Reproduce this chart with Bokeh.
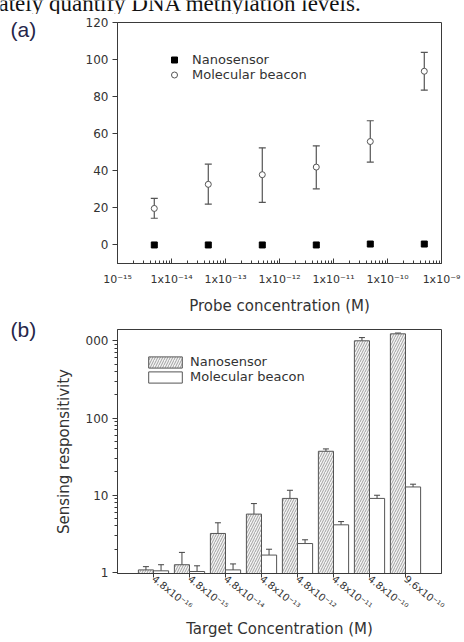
import math
from bokeh.plotting import figure
from bokeh.models import (FixedTicker, CustomJSTickFormatter, Whisker, TeeHead, ColumnDataSource,
                          Legend, LegendItem, Range1d)
from bokeh.layouts import column, row
from bokeh.transform import dodge
from bokeh.core.properties import value
from bokeh.embed import file_html
from bokeh.resources import INLINE

# ---------------- Panel (a) data ----------------
probe_conc = [4.8e-15, 4.8e-14, 4.8e-13, 4.8e-12, 4.8e-11, 4.8e-10]
nano_a = [0.0, 0.0, 0.0, 0.0, 0.5, 0.5]
beacon_a = [19.7, 32.7, 37.9, 42.0, 55.8, 93.7]
beacon_a_hi = [25.1, 43.6, 52.4, 53.5, 67.0, 103.9]
beacon_a_lo = [14.4, 22.0, 23.0, 30.3, 44.7, 83.5]
a_xticks = [1e-15, 1e-14, 1e-13, 1e-12, 1e-11, 1e-10, 1e-9]
a_xlabels = ["10\u207b\u00b9\u2075", "1x10\u207b\u00b9\u2074", "1x10\u207b\u00b9\u00b3", "1x10\u207b\u00b9\u00b2",
             "1x10\u207b\u00b9\u00b9", "1x10\u207b\u00b9\u2070", "1x10\u207b\u2079"]
a_yticks = [0, 20, 40, 60, 80, 100, 120]

# ---------------- Panel (b) data ----------------
target_idx = [1, 2, 3, 4, 5, 6, 7, 8]
target_labels = ["4.8x10\u207b\u00b9\u2076", "4.8x10\u207b\u00b9\u2075", "4.8x10\u207b\u00b9\u2074",
                 "4.8x10\u207b\u00b9\u00b3", "4.8x10\u207b\u00b9\u00b2", "4.8x10\u207b\u00b9\u00b9",
                 "4.8x10\u207b\u00b9\u2070", "9.6x10\u207b\u00b9\u2070"]
nano_b = [1.08, 1.26, 3.2, 5.7, 9.1, 37.1, 1000, 1230]
nano_b_hi = [1.19, 1.82, 4.4, 7.8, 11.6, 39.8, 1100, 1260]
nano_b_lo = [0.97, 0.97, 2.28, 3.82, 6.8, 34.4, 925, 1190]
beacon_b = [1.05, 1.03, 1.08, 1.68, 2.37, 4.14, 9.1, 12.8]
beacon_b_hi = [1.26, 1.22, 1.29, 2.0, 2.65, 4.56, 10.0, 13.9]
beacon_b_lo = [0.97, 0.97, 0.97, 1.39, 2.11, 3.64, 8.3, 11.6]
b_yticks = [1, 10, 100, 1000]
b_ylabels = ["1", "10", "100", "000"]
b_yminor = [2, 3, 4, 5, 6, 7, 8, 9, 20, 30, 40, 50, 60, 70, 80, 90, 200, 300, 400, 500, 600, 700, 800, 900]

caption_text = "ately quantify DNA methylation levels."
panel_tags = ["(a)", "(b)"]

FONT = "DejaVu Sans"
TXT = "#333333"
AX = "#3a3a3a"


def style_axis(ax, size="12px"):
    ax.axis_line_color = AX
    ax.major_tick_line_color = AX
    ax.minor_tick_line_color = AX
    ax.major_label_text_font = FONT
    ax.major_label_text_font_size = size
    ax.major_label_text_color = TXT
    ax.axis_label_text_font = FONT
    ax.axis_label_text_font_size = "15px"
    ax.axis_label_text_font_style = "normal"
    ax.axis_label_text_color = TXT


def text_fig(w, h):
    f = figure(width=w, height=h, x_range=Range1d(0, w), y_range=Range1d(h, 0),
               output_backend="svg", toolbar_location=None, min_border=0,
               x_axis_location=None, y_axis_location=None)
    f.grid.visible = False
    f.outline_line_color = None
    return f


# ---------------- Caption strip ----------------
strip = text_fig(464, 14)
strip.text(x=[-2], y=[3], text=[caption_text], text_font=value("Liberation Serif"),
           text_font_size="23px", text_color="#111111", text_baseline="alphabetic", text_align="left")

# ---------------- Panel tags column ----------------
tags = text_fig(40, 628)
tags.text(x=[10, 10], y=[15, 315], text=panel_tags, text_font=value("Liberation Sans"),
          text_font_size="21px", text_color="#26264a", text_baseline="middle", text_align="left")

# ---------------- Figure (a) ----------------
pa = figure(width=424, height=303, x_axis_type="log",
            x_range=Range1d(1e-15, 1e-9), y_range=Range1d(-10, 120),
            output_backend="svg", toolbar_location=None,
            min_border_left=75, min_border_right=23, min_border_top=8, min_border_bottom=54)
pa.grid.visible = False
pa.outline_line_color = AX
pa.outline_line_width = 1

srca = ColumnDataSource(dict(x=probe_conc, nano=nano_a, beac=beacon_a, hi=beacon_a_hi, lo=beacon_a_lo))
pa.add_layout(Whisker(base="x", upper="hi", lower="lo", source=srca, dimension="height",
                      line_color="#555555", line_width=1.2,
                      upper_head=TeeHead(size=7, line_color="#555555", line_width=1.2),
                      lower_head=TeeHead(size=7, line_color="#555555", line_width=1.2)))
r_nano = pa.scatter("x", "nano", source=srca, marker="square", size=6, color="black")
r_beac = pa.scatter("x", "beac", source=srca, marker="circle", size=6, fill_color="white",
                    line_color="#555555", line_width=1)

minor_a = []
for e in range(-15, -9):
    for m in range(2, 10):
        minor_a.append(m * 10.0 ** e)

xa = pa.xaxis[0]
xa.ticker = FixedTicker(ticks=a_xticks, minor_ticks=minor_a)
xa.formatter = CustomJSTickFormatter(args=dict(vals=a_xticks, labels=a_xlabels), code="""
const lt = Math.log10(tick);
for (let i = 0; i < vals.length; i++) { if (Math.abs(Math.log10(vals[i]) - lt) < 1e-6) return labels[i]; }
return "";
""")
style_axis(xa, "11px")
xa.major_tick_in = 5
xa.major_tick_out = 0
xa.minor_tick_in = 3
xa.minor_tick_out = 0
xa.major_label_standoff = 9
xa.axis_label = "Probe concentration (M)"
xa.axis_label_standoff = 8

ya = pa.yaxis[0]
ya.ticker = FixedTicker(ticks=a_yticks, minor_ticks=[])
style_axis(ya, "12px")
ya.major_tick_in = 0
ya.major_tick_out = 5
ya.major_label_standoff = 4

leg_a = Legend(items=[LegendItem(label="Nanosensor", renderers=[r_nano]),
                      LegendItem(label="Molecular beacon", renderers=[r_beac])],
               location=(47, 181), padding=0, margin=0, spacing=0,
               glyph_width=20, glyph_height=15, label_height=15, label_standoff=8,
               border_line_color=None, background_fill_alpha=0,
               label_text_font=FONT, label_text_font_size="13px", label_text_color=TXT)
pa.add_layout(leg_a)

# ---------------- Figure (b) ----------------
pb = figure(width=424, height=325, y_axis_type="log",
            x_range=Range1d(0, 9), y_range=Range1d(0.97, 1400),
            output_backend="svg", toolbar_location=None,
            min_border_left=77, min_border_right=15, min_border_top=12, min_border_bottom=69)
pb.grid.visible = False
pb.outline_line_color = AX
pb.outline_line_width = 1

srcb = ColumnDataSource(dict(idx=target_idx, nano=nano_b, nhi=nano_b_hi, nlo=nano_b_lo,
                             beac=beacon_b, bhi=beacon_b_hi, blo=beacon_b_lo))
r_nb = pb.vbar(x=dodge("idx", -0.21, range=pb.x_range), top="nano", bottom=0.5, width=0.42,
               source=srcb, fill_color="#f4f4f4", hatch_pattern="/", hatch_color="#8a8a8a",
               hatch_scale=5, hatch_weight=0.8, line_color="#555555", line_width=1)
r_bb = pb.vbar(x=dodge("idx", 0.21, range=pb.x_range), top="beac", bottom=0.5, width=0.42,
               source=srcb, fill_color="white", line_color="#555555", line_width=1)
for base, up, lo in ((dodge("idx", -0.21, range=pb.x_range), "nhi", "nlo"),
                     (dodge("idx", 0.21, range=pb.x_range), "bhi", "blo")):
    pb.add_layout(Whisker(base=base, upper=up, lower=lo, source=srcb, dimension="height",
                          line_color="#444444", line_width=1,
                          upper_head=TeeHead(size=6, line_color="#444444", line_width=1),
                          lower_head=TeeHead(size=6, line_color="#444444", line_width=1)))

xb = pb.xaxis[0]
xb.ticker = FixedTicker(ticks=target_idx, minor_ticks=[])
xb.formatter = CustomJSTickFormatter(args=dict(labels=target_labels),
                                     code="return labels[Math.round(tick) - 1] || '';")
style_axis(xb, "10px")
xb.major_tick_in = 0
xb.major_tick_out = 4
xb.major_label_standoff = 0
xb.major_label_orientation = -0.68
xb.axis_label = "Target Concentration (M)"
xb.axis_label_standoff = 1

yb = pb.yaxis[0]
yb.ticker = FixedTicker(ticks=b_yticks, minor_ticks=b_yminor)
yb.formatter = CustomJSTickFormatter(args=dict(vals=b_yticks, labels=b_ylabels), code="""
const lt = Math.log10(tick);
for (let i = 0; i < vals.length; i++) { if (Math.abs(Math.log10(vals[i]) - lt) < 1e-6) return labels[i]; }
return "";
""")
style_axis(yb, "12px")
yb.major_tick_in = 0
yb.major_tick_out = 5
yb.minor_tick_in = 0
yb.minor_tick_out = 3
yb.major_label_standoff = 4
yb.axis_label = "Sensing responsitivity"
yb.axis_label_standoff = 10

leg_b = Legend(items=[LegendItem(label="Nanosensor", renderers=[r_nb]),
                      LegendItem(label="Molecular beacon", renderers=[r_bb])],
               location=(27, 189), padding=0, margin=0, spacing=0,
               glyph_width=42, glyph_height=14, label_height=14, label_standoff=4,
               border_line_color=None, background_fill_alpha=0,
               label_text_font=FONT, label_text_font_size="13px", label_text_color=TXT)
pb.add_layout(leg_b)

layout = column(strip, row(tags, column(pa, pb, spacing=0), spacing=0), spacing=0)
open("out.html", "w").write(file_html(layout, INLINE))
